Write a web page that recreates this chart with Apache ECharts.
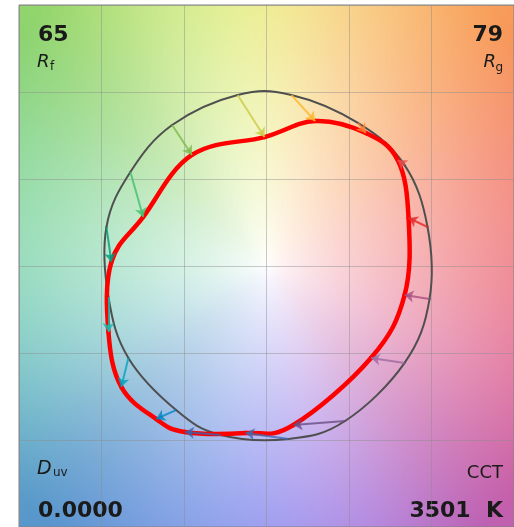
<!DOCTYPE html>
<html>
<head>
<meta charset="utf-8">
<script src="https://cdn.jsdelivr.net/npm/echarts@6/dist/echarts.min.js"></script>
<style>
  html, body { margin: 0; padding: 0; background: #ffffff; }
  #chart { width: 514px; height: 527px; }
</style>
</head>
<body>
<div id="chart"></div>
<script>
// TM-30 colour vector graphic: reference vs. test hue-bin averages (16 bins)
const binLabels = ['1','2','3','4','5','6','7','8','9','10','11','12','13','14','15','16'];
const refX  = [0.976, 0.837, 0.554, 0.151, -0.175, -0.572, -0.825, -0.970, -0.958, -0.837, -0.548, -0.277, 0.133, 0.476, 0.837, 0.988];
const refY  = [0.224, 0.580, 0.822, 0.983, 0.983, 0.810, 0.540, 0.224, -0.178, -0.529, -0.828, -0.971, -0.994, -0.891, -0.557, -0.190];
const testX = [0.861, 0.795, 0.602, 0.295, -0.012, -0.452, -0.747, -0.940, -0.958, -0.880, -0.669, -0.494, -0.127, 0.163, 0.633, 0.837];
const testY = [0.276, 0.609, 0.764, 0.833, 0.741, 0.638, 0.282, 0.023, -0.379, -0.695, -0.879, -0.954, -0.960, -0.914, -0.529, -0.167];
const binColors = ['#e62828', '#e74b4b', '#fb812e', '#ffb529', '#cbca46', '#7eb94c', '#41c06d', '#009c7c',
                   '#16bcb0', '#00a4bf', '#0085c3', '#3b62aa', '#4568ae', '#6a4e85', '#9d69a1', '#a74f81'];

// Summary figures
const rfValue = '65';
const rgValue = '79';
const duvValue = '0.0000';
const cctValue = '3501  K';

// Axis range and grid spacing
const axisMin = -1.5, axisMax = 1.5, axisStep = 0.5;

// Hue wheel used for the background (angle in degrees -> colour)
const hueAngles = [0, 22.5, 45, 67.5, 90, 112.5, 135, 157.5, 180, 202.5, 225, 247.5, 270, 292.5, 315, 337.5];
const hueColors = ['#ee7078', '#f37c68', '#f89a52', '#f9c272', '#eef07c', '#c8e87c', '#88d062', '#80d492',
                   '#84d7b0', '#6cc0c2', '#5090c8', '#6890e0', '#8888f0', '#a878e0', '#c058a8', '#e06a98'];

function hexToRgb(h) {
  return [parseInt(h.slice(1, 3), 16), parseInt(h.slice(3, 5), 16), parseInt(h.slice(5, 7), 16)];
}

// Smoothly blended hue lookup table, one entry per degree
function buildHueTable() {
  const rgb = hueColors.map(hexToRgb);
  const sigma = 13;
  const table = [];
  for (let a = 0; a < 360; a++) {
    let s = [0, 0, 0], ws = 0;
    for (let k = 0; k < hueAngles.length; k++) {
      let d = Math.abs(a - hueAngles[k]);
      if (d > 180) d = 360 - d;
      const w = Math.exp(-d * d / (2 * sigma * sigma));
      ws += w;
      for (let c = 0; c < 3; c++) s[c] += rgb[k][c] * w;
    }
    table.push(s.map(v => v / ws));
  }
  return table;
}

function buildBackground(w, h) {
  const table = buildHueTable();
  const cv = document.createElement('canvas');
  cv.width = w; cv.height = h;
  const ctx = cv.getContext('2d');
  const img = ctx.createImageData(w, h);
  for (let j = 0; j < h; j++) {
    const v = axisMax - (j + 0.5) / h * (axisMax - axisMin);
    for (let i = 0; i < w; i++) {
      const u = axisMin + (i + 0.5) / w * (axisMax - axisMin);
      let ang = Math.atan2(v, u) * 180 / Math.PI;
      if (ang < 0) ang += 360;
      const a0 = Math.floor(ang) % 360, a1 = (a0 + 1) % 360, f = ang - Math.floor(ang);
      const r = Math.sqrt(u * u + v * v);
      const t = Math.min(1, Math.pow(r / 2.0, 0.8));
      const idx = (j * w + i) * 4;
      for (let c = 0; c < 3; c++) {
        const hc = table[a0][c] * (1 - f) + table[a1][c] * f;
        img.data[idx + c] = Math.round(255 * (1 - t) + hc * t);
      }
      img.data[idx + 3] = 255;
    }
  }
  ctx.putImageData(img, 0, 0);
  return cv;
}
const bgCanvas = buildBackground(300, 300);

// Closed curve through the bin points, drawn segment by segment as cubic Béziers
function loopSeries(name, xs, ys, color, width, z) {
  const n = xs.length;
  const tension = 1 / 6 * 1.1;
  return {
    type: 'custom', name: name, z: z, silent: true,
    data: xs.map((x, i) => [x, ys[i]]),
    encode: { x: 0, y: 1 },
    renderItem: function (params, api) {
      const i = params.dataIndex;
      const P = k => api.coord([xs[(k + n) % n], ys[(k + n) % n]]);
      const p0 = P(i - 1), p1 = P(i), p2 = P(i + 1), p3 = P(i + 2);
      return {
        type: 'bezierCurve',
        shape: {
          x1: p1[0], y1: p1[1], x2: p2[0], y2: p2[1],
          cpx1: p1[0] + (p2[0] - p0[0]) * tension, cpy1: p1[1] + (p2[1] - p0[1]) * tension,
          cpx2: p2[0] - (p3[0] - p1[0]) * tension, cpy2: p2[1] - (p3[1] - p1[1]) * tension
        },
        style: { stroke: color, lineWidth: width, fill: 'none', lineCap: 'round' }
      };
    }
  };
}

const arrows = binLabels.map((b, i) => ({
  name: b,
  coords: [[refX[i], refY[i]], [testX[i], testY[i]]],
  lineStyle: { color: binColors[i] }
}));

const chart = echarts.init(document.getElementById('chart'), null, { renderer: 'canvas' });

const txt = '#1a1a1a';
const fam = '"DejaVu Sans", sans-serif';

chart.setOption({
  animation: false,
  grid: { left: 19, top: 5, width: 498, height: 522, show: true, borderColor: '#808080', borderWidth: 1, backgroundColor: 'transparent' },
  xAxis: {
    type: 'value', min: axisMin, max: axisMax, interval: axisStep,
    axisLine: { show: false }, axisTick: { show: false }, axisLabel: { show: false },
    splitLine: { show: true, lineStyle: { color: 'rgba(140,140,140,0.45)', width: 1 } }
  },
  yAxis: {
    type: 'value', min: axisMin, max: axisMax, interval: axisStep,
    axisLine: { show: false }, axisTick: { show: false }, axisLabel: { show: false },
    splitLine: { show: true, lineStyle: { color: 'rgba(140,140,140,0.45)', width: 1 } }
  },
  series: [
    {
      type: 'custom', name: 'background', z: -1, silent: true, data: [[0, 0]],
      renderItem: function (params, api) {
        const p0 = api.coord([axisMin, axisMax]);
        const p1 = api.coord([axisMax, axisMin]);
        return { type: 'image', style: { image: bgCanvas, x: p0[0], y: p0[1], width: p1[0] - p0[0], height: p1[1] - p0[1] } };
      }
    },
    loopSeries('Reference', refX, refY, '#4f4f4f', 2, 3),
    loopSeries('Test', testX, testY, '#ff0000', 4.5, 4),
    {
      type: 'lines', name: 'Shift', coordinateSystem: 'cartesian2d', z: 5,
      symbol: ['none', 'arrow'], symbolSize: 9,
      lineStyle: { width: 2, opacity: 0.8 },
      data: arrows
    }
  ],
  graphic: [
    { type: 'text', left: 38, top: 24, style: { text: rfValue, font: 'bold 22px ' + fam, fill: txt } },
    { type: 'text', left: 37, top: 53, style: { text: 'R', font: 'italic 18px ' + fam, fill: txt } },
    { type: 'text', left: 50, top: 61, style: { text: 'f', font: '12px ' + fam, fill: txt } },
    { type: 'text', right: 11, top: 24, style: { text: rgValue, font: 'bold 22px ' + fam, fill: txt } },
    { type: 'text', right: 18, top: 53, style: { text: 'R', font: 'italic 18px ' + fam, fill: txt } },
    { type: 'text', right: 11, top: 62, style: { text: 'g', font: '12px ' + fam, fill: txt } },
    { type: 'text', left: 37, top: 460, style: { text: 'D', font: 'italic 19px ' + fam, fill: txt } },
    { type: 'text', left: 53, top: 467, style: { text: 'uv', font: '12px ' + fam, fill: txt } },
    { type: 'text', left: 38, top: 500, style: { text: duvValue, font: 'bold 22px ' + fam, fill: txt } },
    { type: 'text', right: 11, top: 464, style: { text: 'CCT', font: '18px ' + fam, fill: txt } },
    { type: 'text', right: 11, top: 500, style: { text: cctValue, font: 'bold 22px ' + fam, fill: txt } }
  ]
});
</script>
</body>
</html>
